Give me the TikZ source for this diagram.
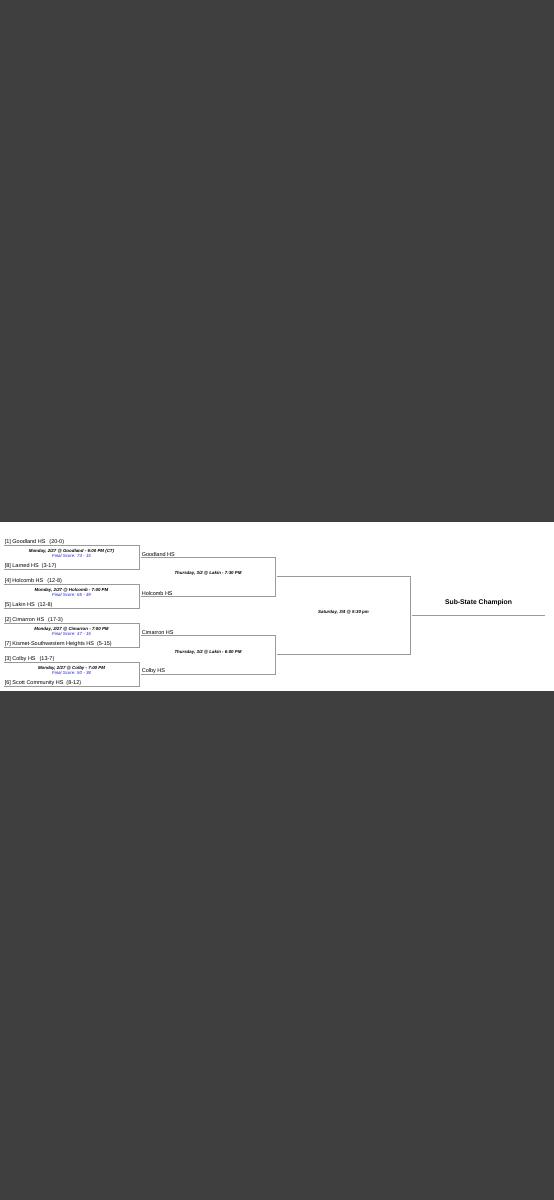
\documentclass[tikz,border=0pt]{standalone}
\usepackage{fontspec}
\setmainfont{Liberation Sans}
\usetikzlibrary{positioning}
\definecolor{screenbg}{HTML}{3F3F3F}
\definecolor{bracketline}{HTML}{9A9A9A}
\definecolor{scoreblue}{HTML}{2020DC}

\begin{document}
\begin{tikzpicture}[x=1pt,y=-1pt,
   team/.style={anchor=south west,inner sep=0.6pt,font=\fontsize{5.5}{6}\selectfont},
   game/.style={align=center,inner sep=0pt,font=\fontsize{4.4}{5}\selectfont\bfseries\itshape},
   bline/.style={draw=bracketline,line width=1pt}]
  \fill[screenbg] (0,0) rectangle (554,1200);
  \fill[white] (0,522) rectangle (554,691);
  % first round
  \foreach \i/\top in {1/545,2/584,3/623,4/662}{
    \coordinate (a\i) at (4,\top);
    \coordinate (b\i) at (139,\top);
    \coordinate (c\i) at (139,\top+24);
    \coordinate (d\i) at (4,\top+24);
    \draw[bline] (a\i) -- (b\i) -- (c\i) -- (d\i);
  }
  \node (s1) [team] at (a1) {[1] Goodland HS\hspace{4pt}(20-0)};
  \node (s8) [team] at (d1) {[8] Larned HS\hspace{3pt}(3-17)};
  \node (s4) [team] at (a2) {[4] Holcomb HS\hspace{4pt}(12-8)};
  \node (s5) [team] at (d2) {[5] Lakin HS\hspace{3pt}(12-8)};
  \node (s2) [team] at (a3) {[2] Cimarron HS\hspace{4pt}(17-3)};
  \node (s7) [team] at (d3) {[7] Kismet-Southwestern Heights HS\hspace{3pt}(5-15)};
  \node (s3) [team] at (a4) {[3] Colby HS\hspace{4pt}(13-7)};
  \node (s6) [team] at (d4) {[6] Scott Community HS\hspace{3pt}(8-12)};
  \node (g1) [game] at (71.5,553.5) {Monday, 2/27 @ Goodland - 6:00 PM (CT)\\
    {\mdseries\color{scoreblue}Final Score: 74 - 15}};
  \node (g2) [game] at (71.5,592.5) {Monday, 2/27 @ Holcomb - 7:00 PM\\
    {\mdseries\color{scoreblue}Final Score: 65 - 49}};
  \node (g3) [game] at (71.5,631.5) {Monday, 2/27 @ Cimarron - 7:00 PM\\
    {\mdseries\color{scoreblue}Final Score: 47 - 15}};
  \node (g4) [game] at (71.5,670.5) {Monday, 2/27 @ Colby - 7:00 PM\\
    {\mdseries\color{scoreblue}Final Score: 50 - 38}};
  % second round
  \coordinate (e1) at (141,557);
  \coordinate (f1) at (275,557);
  \coordinate (h1) at (275,596);
  \coordinate (k1) at (141,596);
  \coordinate (e2) at (141,635);
  \coordinate (f2) at (275,635);
  \coordinate (h2) at (275,674);
  \coordinate (k2) at (141,674);
  \draw[bline] (e1) -- (f1) -- (h1) -- (k1);
  \draw[bline] (e2) -- (f2) -- (h2) -- (k2);
  \node (w1) [team] at (e1) {Goodland HS};
  \node (w4) [team] at (k1) {Holcomb HS};
  \node (w2) [team] at (e2) {Cimarron HS};
  \node (w3) [team] at (k2) {Colby HS};
  \node (q1) [game] at (208,573.5) {Thursday, 3/2 @ Lakin - 7:30 PM};
  \node (q2) [game] at (208,652) {Thursday, 3/2 @ Lakin - 6:00 PM};
  % final
  \coordinate (m1) at (277,576.5);
  \coordinate (m2) at (410,576.5);
  \coordinate (m3) at (410,654.5);
  \coordinate (m4) at (277,654.5);
  \draw[bline] (m1) -- (m2) -- (m3) -- (m4);
  \node (fin) [game] at (343.5,612.5) {Saturday, 3/4 @ 5:30 pm};
  \coordinate (c0) at (412,615.5);
  \coordinate (cz) at (545,615.5);
  \draw[bline] (c0) -- (cz);
  \node (champ) [font=\fontsize{6.8}{7}\selectfont\bfseries] at (478.5,603) {Sub-State Champion};
\end{tikzpicture}
\end{document}
